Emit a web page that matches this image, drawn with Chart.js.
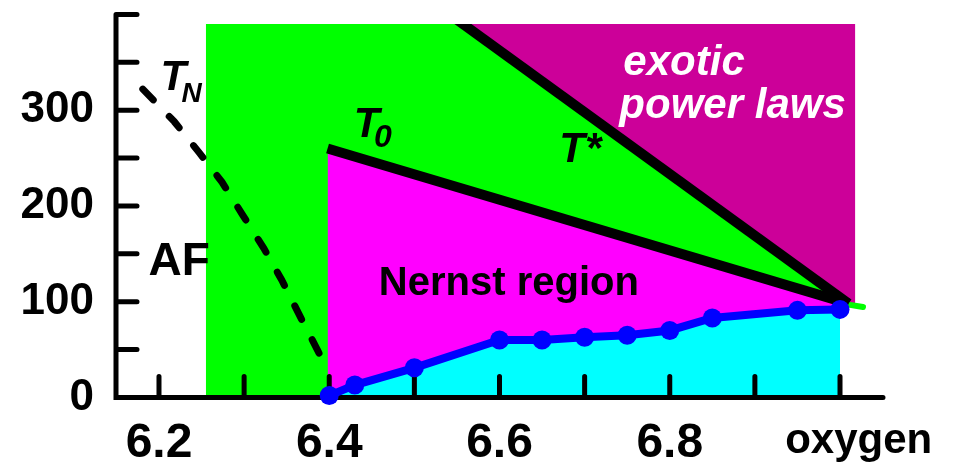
<!DOCTYPE html>
<html>
<head>
<meta charset="utf-8">
<script src="https://cdn.jsdelivr.net/npm/chart.js@4/dist/chart.umd.min.js"></script>
<style>
  html, body { margin: 0; padding: 0; background: #fff; }
  #wrap { width: 953px; height: 463px; }
</style>
</head>
<body>
<div id="wrap"><canvas id="c" width="953" height="463"></canvas></div>
<script>
// Cuprate phase diagram: temperature (K) against oxygen content.

// Superconducting transition, measured points
const oxygen   = [6.4, 6.43, 6.5, 6.6, 6.65, 6.7, 6.75, 6.8, 6.85, 6.95, 7.0];
const tcValues = [2, 13, 31, 60, 60, 63, 65, 70, 83, 91, 92];

// Neel temperature (dashed boundary of the AF phase)
const tnOxygen = [6.181, 6.218, 6.247, 6.274, 6.298, 6.323, 6.344, 6.365, 6.390];
const tnValues = [322, 288, 256, 225, 191, 156, 123, 86, 43];

// Onset of the Nernst signal
const t0Oxygen = [6.398, 7.01];
const t0Values = [260, 98];

// Pseudogap crossover T*
const tStarOxygen = [6.5415, 7.01];
const tStarValues = [400, 98];

// short green stub past the crossing point
const stubOxygen = [7.01, 7.027];
const stubValues = [97, 94.5];

// Diagram frame
const greenLeft = 6.255;
const frameRight = 7.018;
const frameTop = 390;

// Axis ticks and labels
const xTicks = [6.2, 6.3, 6.4, 6.5, 6.6, 6.7, 6.8, 6.9, 7.0];
const xTickLabels = ['6.2', '', '6.4', '', '6.6', '', '6.8', '', ''];
const xAxisName = 'oxygen';
const yTicks = [0, 50, 100, 150, 200, 250, 300, 350, 400];
const yTickLabels = ['0', '', '100', '', '200', '', '300', '', ''];

const xMin = 6.1495, xMax = 7.0505;

const FONT = "'Liberation Sans', Arial, Helvetica, sans-serif";
const GREEN = '#00ff00', PURPLE = '#cc0099', MAGENTA = '#ff00ff',
      CYAN = '#00ffff', BLUE = '#0000ff', BLACK = '#000000';

const pts = (xs, ys) => xs.map((x, i) => ({ x, y: ys[i] }));
function yAtX(xs, ys, x) {
  const t = (x - xs[0]) / (xs[1] - xs[0]);
  return ys[0] + t * (ys[1] - ys[0]);
}
function xAtY(xs, ys, y) {
  const t = (y - ys[0]) / (ys[1] - ys[0]);
  return xs[0] + t * (xs[1] - xs[0]);
}

const dopingEnd = oxygen[oxygen.length - 1];
const crossX = tStarOxygen[1], crossY = tStarValues[1];
const tStarTopX = xAtY(tStarOxygen, tStarValues, frameTop);

const greenRegion = [
  { x: greenLeft, y: frameTop },
  { x: tStarTopX, y: frameTop },
  { x: dopingEnd, y: yAtX(tStarOxygen, tStarValues, dopingEnd) }
];
const purpleRegion = [
  { x: tStarTopX, y: frameTop },
  { x: crossX, y: crossY },
  { x: frameRight, y: crossY }
];
const nernstRegion = [
  { x: t0Oxygen[0], y: t0Values[0] },
  { x: dopingEnd, y: yAtX(t0Oxygen, t0Values, dopingEnd) }
];

const areaBase = { showLine: true, pointRadius: 0, borderWidth: 0, borderColor: 'rgba(0,0,0,0)', tension: 0 };

const datasets = [
  { // Tc line with the superconducting dome fill
    data: pts(oxygen, tcValues), showLine: true, order: 0,
    borderColor: BLUE, borderWidth: 8, backgroundColor: CYAN, fill: 'origin',
    pointRadius: 9.5, pointBackgroundColor: BLUE, pointBorderWidth: 0,
    tension: 0, clip: false
  },
  { data: pts(tStarOxygen, tStarValues), showLine: true, order: 1, pointRadius: 0,
    borderColor: BLACK, borderWidth: 10, fill: false, clip: 0 },
  { data: pts(t0Oxygen, t0Values), showLine: true, order: 2, pointRadius: 0,
    borderColor: BLACK, borderWidth: 10, fill: false, clip: false },
  { data: pts(tnOxygen, tnValues), showLine: true, order: 3, pointRadius: 0,
    borderColor: BLACK, borderWidth: 7, borderDash: [15, 23], borderCapStyle: 'round',
    fill: false, tension: 0, clip: false },
  { data: pts(stubOxygen, stubValues), showLine: true, order: 4, pointRadius: 0,
    borderColor: GREEN, borderWidth: 6, borderCapStyle: 'round', fill: false, clip: false },
  Object.assign({}, areaBase, { data: nernstRegion, order: 5, backgroundColor: MAGENTA, fill: 'origin' }),
  Object.assign({}, areaBase, { data: purpleRegion, order: 6, backgroundColor: PURPLE, fill: { value: frameTop } }),
  Object.assign({}, areaBase, { data: greenRegion, order: 7, backgroundColor: GREEN, fill: 'origin' })
];

// Axes with inward ticks, drawn just beneath the Tc series
const axesPlugin = {
  id: 'frameAxes',
  beforeDatasetDraw(chart, args) {
    if (args.index !== 0) return;
    const { ctx, chartArea, scales: { x, y } } = chart;
    const tick = 21;
    ctx.save();
    ctx.strokeStyle = BLACK;
    ctx.lineWidth = 5;
    ctx.lineCap = 'round';
    const left = chartArea.left, bottom = y.getPixelForValue(0);
    const top = y.getPixelForValue(yTicks[yTicks.length - 1]);
    ctx.beginPath();
    ctx.moveTo(left, top);
    ctx.lineTo(left, bottom);
    ctx.lineTo(chartArea.right, bottom);
    yTicks.forEach(v => {
      const py = y.getPixelForValue(v);
      ctx.moveTo(left, py);
      ctx.lineTo(left + tick, py);
    });
    xTicks.forEach(v => {
      const px = x.getPixelForValue(v);
      ctx.moveTo(px, bottom);
      ctx.lineTo(px, bottom - tick);
    });
    ctx.stroke();
    ctx.restore();
  }
};

const notes = [
  { text: 'T', x: 6.2018, y: 321, size: 42, italic: true },
  { text: 'N', x: 6.2265, y: 308.5, size: 28, italic: true },
  { text: 'AF', x: 6.1877, y: 128, size: 46 },
  { text: 'T', x: 6.4289, y: 272, size: 42, italic: true },
  { text: '0', x: 6.4525, y: 261.5, size: 32, italic: true },
  { text: 'T*', x: 6.6702, y: 246, size: 42, italic: true },
  { text: 'Nernst region', x: 6.4583, y: 107, size: 40 },
  { text: 'exotic', x: 6.7455, y: 336.7, size: 42, italic: true, color: '#ffffff' },
  { text: 'power laws', x: 6.7408, y: 291.8, size: 42, italic: true, color: '#ffffff' }
];

const notesPlugin = {
  id: 'regionNotes',
  afterDatasetsDraw(chart) {
    const { ctx, chartArea, scales: { x, y } } = chart;
    ctx.save();
    ctx.textBaseline = 'alphabetic';
    ctx.textAlign = 'left';
    notes.forEach(n => {
      ctx.font = (n.italic ? 'italic ' : '') + 'bold ' + n.size + 'px ' + FONT;
      ctx.fillStyle = n.color || BLACK;
      ctx.fillText(n.text, x.getPixelForValue(n.x), y.getPixelForValue(n.y));
    });
    // axis name sits in the tick-label row, right of the last tick
    ctx.font = 'bold 42px ' + FONT;
    ctx.fillStyle = BLACK;
    ctx.textAlign = 'center';
    ctx.textBaseline = 'alphabetic';
    ctx.fillText(xAxisName, x.getPixelForValue(7.022), chartArea.bottom + 55);
    ctx.restore();
  }
};

new Chart(document.getElementById('c'), {
  type: 'scatter',
  data: { datasets },
  options: {
    responsive: false,
    devicePixelRatio: 1,
    animation: false,
    events: [],
    layout: { padding: { left: 0, right: 70, top: 24, bottom: 0 } },
    plugins: { legend: { display: false }, tooltip: { enabled: false }, filler: { propagate: false } },
    scales: {
      x: {
        type: 'linear', min: xMin, max: xMax,
        grid: { display: false, drawTicks: false },
        border: { display: false },
        afterBuildTicks: s => { s.ticks = xTicks.map(v => ({ value: v })); },
        afterFit: s => { s.height = 65.5; s.paddingLeft = 0; s.paddingRight = 0; },
        ticks: {
          autoSkip: false, maxRotation: 0, padding: 17, color: BLACK,
          font: { family: FONT, size: 48, weight: 'bold' },
          callback: (v, i) => xTickLabels[i]
        }
      },
      y: {
        type: 'linear', min: 0, max: frameTop,
        grid: { display: false, drawTicks: false },
        border: { display: false },
        afterBuildTicks: s => { s.ticks = yTicks.filter(v => v <= frameTop).map(v => ({ value: v })); },
        afterFit: s => { s.width = 116; s.paddingTop = 0; s.paddingBottom = 0; },
        ticks: {
          autoSkip: false, padding: 22, color: BLACK,
          font: { family: FONT, size: 44, weight: 'bold' },
          callback: (v, i) => yTickLabels[i]
        }
      }
    }
  },
  plugins: [axesPlugin, notesPlugin]
});
</script>
</body>
</html>
